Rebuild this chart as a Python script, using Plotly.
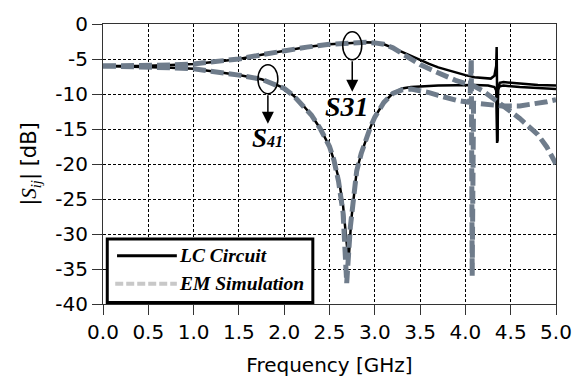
import plotly.graph_objects as go

# ---------------- data ----------------
lc_s31_f = [0, 0.25, 0.5, 0.75, 1.0, 1.25, 1.5, 1.75, 2.0, 2.25, 2.5, 2.7, 2.9, 3.0, 3.1, 3.2, 3.3, 3.4, 3.5,
            3.6, 3.7, 3.8, 3.9, 4.0, 4.1, 4.2, 4.28, 4.32, 4.34, 4.345, 4.35, 4.355, 4.36, 4.38, 4.42, 4.5,
            4.6, 4.7, 4.8, 4.9, 5.0]
lc_s31_db = [-6.0, -6.0, -5.95, -5.85, -5.7, -5.4, -5.0, -4.4, -3.8, -3.3, -2.9, -2.7, -2.6, -2.65, -2.9, -3.4,
             -4.0, -4.6, -5.2, -5.7, -6.2, -6.6, -7.0, -7.3, -7.6, -7.75, -7.8, -7.4, -6.0, -3.3, -12.0, -16.8,
             -9.5, -8.4, -8.3, -8.4, -8.5, -8.6, -8.7, -8.75, -8.8]

lc_s41_f = [0, 0.25, 0.5, 0.75, 1.0, 1.25, 1.5, 1.75, 1.9, 2.0, 2.1, 2.2, 2.3, 2.4, 2.5, 2.55, 2.6, 2.65, 2.68,
            2.71, 2.74, 2.77, 2.8, 2.85, 2.9, 2.95, 3.0, 3.1, 3.2, 3.3, 3.4, 3.5, 3.7, 3.9, 4.1, 4.25, 4.32,
            4.34, 4.35, 4.355, 4.36, 4.38, 4.42, 4.6, 4.8, 5.0]
lc_s41_db = [-6.0, -6.05, -6.1, -6.25, -6.4, -6.8, -7.3, -7.9, -8.6, -9.2, -10.2, -11.5, -13.0, -15.0, -17.5,
             -19.5, -22.0, -26.0, -30.0, -34.0, -28.0, -24.0, -21.0, -18.5, -16.5, -14.8, -13.3, -11.2, -9.9,
             -9.2, -9.0, -8.9, -8.8, -8.75, -8.7, -8.8, -9.0, -9.5, -17.0, -12.0, -9.3, -8.9, -8.8, -9.0,
             -9.2, -9.3]

em_s31_f = [0, 0.25, 0.5, 0.75, 1.0, 1.25, 1.5, 1.75, 2.0, 2.25, 2.5, 2.7, 2.9, 3.0, 3.1, 3.2, 3.3, 3.4, 3.5,
            3.6, 3.7, 3.8, 3.9, 4.0, 4.1, 4.2, 4.3, 4.4, 4.5, 4.6, 4.7, 4.8, 4.9, 5.0]
em_s31_db = [-6.0, -6.0, -5.95, -5.85, -5.7, -5.4, -5.0, -4.4, -3.8, -3.3, -2.9, -2.7, -2.6, -2.7, -2.9, -3.4,
             -4.2, -5.1, -5.8, -6.4, -7.0, -7.6, -8.1, -8.5, -8.9, -9.6, -10.5, -11.6, -12.5, -13.5, -14.6,
             -15.8, -17.6, -20.0]

em_s41_f = [0, 0.25, 0.5, 0.75, 1.0, 1.25, 1.5, 1.75, 1.9, 2.0, 2.1, 2.2, 2.3, 2.4, 2.5, 2.55, 2.6, 2.65, 2.69,
            2.73, 2.77, 2.8, 2.85, 2.9, 2.95, 3.0, 3.1, 3.2, 3.3, 3.4, 3.5, 3.6, 3.7, 3.8, 3.9, 4.0, 4.05,
            4.065, 4.075, 4.09, 4.2, 4.4, 4.6, 4.8, 4.9, 5.0]
em_s41_db = [-6.0, -6.05, -6.1, -6.25, -6.4, -6.8, -7.3, -7.9, -8.6, -9.2, -10.2, -11.5, -13.0, -15.0, -17.5,
             -19.5, -22.5, -27.0, -37.0, -29.0, -24.0, -21.0, -18.5, -16.5, -14.8, -13.3, -11.2, -9.9, -9.4,
             -9.3, -9.5, -9.8, -10.2, -10.6, -10.9, -11.1, -11.2, -5.0, -36.0, -11.3, -11.5, -11.7, -11.7,
             -11.4, -11.1, -10.8]

x_ticks = [0.0, 0.5, 1.0, 1.5, 2.0, 2.5, 3.0, 3.5, 4.0, 4.5, 5.0]
y_ticks = [0, -5, -10, -15, -20, -25, -30, -35, -40]

BLACK = "#000000"
GRAY = "#6f7c8b"
LIGHT = "#c8c8c8"
SERIF = "Liberation Serif, Times New Roman, serif"
SANS = "DejaVu Sans, Arial, sans-serif"

fig = go.Figure()
for f, d in [(lc_s31_f, lc_s31_db), (lc_s41_f, lc_s41_db)]:
    fig.add_trace(go.Scatter(x=f, y=d, mode="lines", line=dict(color=BLACK, width=2.5),
                             showlegend=False, hoverinfo="skip"))
for f, d in [(em_s31_f, em_s31_db), (em_s41_f, em_s41_db)]:
    fig.add_trace(go.Scatter(x=f, y=d, mode="lines", line=dict(color=GRAY, width=5, dash="13px,5px"),
                             showlegend=False, hoverinfo="skip"))

# ellipses + arrows
fig.add_shape(type="circle", xref="x", yref="y", x0=1.71, x1=1.93, y0=-9.95, y1=-5.81,
              line=dict(color=BLACK, width=1.5))
fig.add_shape(type="circle", xref="x", yref="y", x0=2.646, x1=2.856, y0=-5.11, y1=-1.11,
              line=dict(color=BLACK, width=1.5))
fig.add_annotation(x=1.82, y=-14.25, ax=1.82, ay=-9.95, axref="x", ayref="y", xref="x", yref="y",
                   showarrow=True, arrowhead=2, arrowsize=1.6, arrowwidth=1.5, arrowcolor=BLACK, text="")
fig.add_annotation(x=2.751, y=-9.68, ax=2.751, ay=-5.11, axref="x", ayref="y", xref="x", yref="y",
                   showarrow=True, arrowhead=2, arrowsize=1.6, arrowwidth=1.5, arrowcolor=BLACK, text="")
fig.add_annotation(x=1.82, y=-16.3, xref="x", yref="y", showarrow=False,
                   text="<b><i>S<span style='font-size:16px'>41</span></i></b>",
                   font=dict(family=SERIF, size=27, color=BLACK))
fig.add_annotation(x=2.69, y=-11.8, xref="x", yref="y", showarrow=False,
                   text="<b><i>S31</i></b>", font=dict(family=SERIF, size=28, color=BLACK))

# manual legend
fig.add_shape(type="rect", xref="x", yref="y", x0=0.047, x1=2.316, y0=-39.8, y1=-30.7,
              fillcolor="white", line=dict(color=BLACK, width=3), layer="above")
fig.add_shape(type="line", xref="x", yref="y", x0=0.155, x1=0.815, y0=-33.1, y1=-33.1,
              line=dict(color=BLACK, width=3), layer="above")
fig.add_shape(type="line", xref="x", yref="y", x0=0.135, x1=0.815, y0=-37.1, y1=-37.1,
              line=dict(color=LIGHT, width=4, dash="8px,3px"), layer="above")
fig.add_annotation(x=0.82, y=-33.1, xref="x", yref="y", xanchor="left", showarrow=False,
                   text="<b><i>LC Circuit</i></b>", font=dict(family=SERIF, size=19.5, color=BLACK))
fig.add_annotation(x=0.82, y=-37.1, xref="x", yref="y", xanchor="left", showarrow=False,
                   text="<b><i>EM Simulation</i></b>", font=dict(family=SERIF, size=19.5, color=BLACK))

fig.update_layout(
    width=584, height=387,
    margin=dict(l=103, r=27, t=15, b=83),
    paper_bgcolor="white", plot_bgcolor="white",
    font=dict(family=SANS, size=20, color=BLACK),
)
fig.update_xaxes(range=[0, 5], tickvals=x_ticks, ticktext=[f"{v:.1f}" for v in x_ticks],
                 ticks="outside", ticklen=10, tickcolor="#333", tickwidth=1,
                 showline=True, linecolor="#333", linewidth=1, mirror=True,
                 showgrid=True, gridcolor=BLACK, gridwidth=1, griddash="3px,2px",
                 zeroline=False, tickfont=dict(family=SANS, size=20),
                 title=dict(text="Frequency [GHz]", standoff=14, font=dict(family=SANS, size=20)))
fig.update_yaxes(range=[-40, 0], tickvals=y_ticks, ticktext=[str(v) for v in y_ticks],
                 ticks="outside", ticklen=10, tickcolor="#333", tickwidth=1,
                 showline=True, linecolor="#333", linewidth=1, mirror=True,
                 showgrid=True, gridcolor=BLACK, gridwidth=1, griddash="3px,2px",
                 zeroline=False, tickfont=dict(family=SANS, size=20),
                 title=dict(text="|<span style='font-family:Liberation Serif'><i>S<sub>ij</sub></i></span>| [dB]",
                            standoff=12, font=dict(family=SANS, size=21)))

fig.write_html("out.html")
